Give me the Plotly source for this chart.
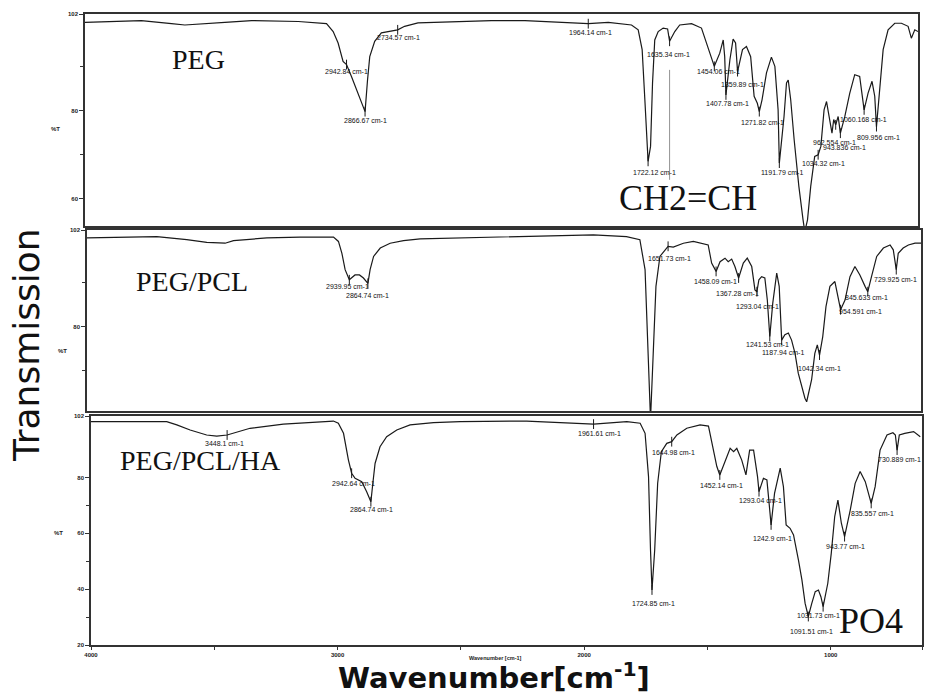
import plotly.graph_objects as go

W, H = 927, 695

# ---------------- data (wavenumber cm-1, %T) ----------------
peg = [(4000, 100.1), (3812, 100.3), (3772, 100.5), (3650, 99.8), (3596, 99.5), (3434, 100.1),
       (3326, 100.5), (3137, 100.3), (3023, 99.8), (2996, 98.0), (2976, 95.4), (2956, 91.2),
       (2942, 90.5), (2922, 87.8), (2895, 84.0), (2867, 79.8), (2857, 87.0), (2848, 92.3),
       (2828, 95.8), (2801, 97.7), (2735, 98.4), (2707, 99.2), (2653, 100.0), (2490, 100.3),
       (2355, 100.5), (2220, 100.5), (2086, 100.1), (1964, 99.8), (1883, 100.1), (1789, 99.5),
       (1762, 98.4), (1746, 93.9), (1735, 82.5), (1726, 71.1), (1722, 68.5), (1712, 71.9),
       (1704, 86.3), (1695, 96.1), (1681, 98.0), (1661, 98.8), (1643, 98.6), (1635, 95.8),
       (1614, 98.0), (1594, 99.5), (1546, 99.8), (1506, 98.8), (1486, 95.4), (1465, 91.6),
       (1454, 90.1), (1432, 93.1), (1418, 96.1), (1412, 92.3), (1407, 83.6), (1391, 91.6),
       (1378, 96.3), (1368, 95.4), (1360, 88.9), (1340, 93.9), (1324, 94.6), (1307, 92.3),
       (1293, 83.3), (1280, 81.7), (1272, 79.8), (1261, 82.5), (1243, 88.6), (1223, 92.2),
       (1209, 90.1), (1196, 80.2), (1191, 68.1), (1172, 78.7), (1162, 86.3), (1155, 87.0),
       (1145, 82.5), (1131, 73.4), (1112, 62.8), (1095, 55.2), (1088, 52.5), (1077, 55.2),
       (1064, 62.8), (1048, 69.6), (1034, 70.0), (1023, 71.9), (1010, 80.2), (1000, 82.1),
       (987, 78.0), (978, 74.9), (971, 78.0), (963, 76.8), (953, 78.7), (944, 74.9),
       (926, 78.7), (906, 84.0), (886, 88.2), (866, 87.8), (848, 80.2), (832, 84.0),
       (816, 86.7), (805, 83.3), (798, 76.4), (789, 82.5), (771, 93.9), (751, 98.4),
       (724, 99.9), (697, 99.9), (670, 99.2), (657, 96.5), (643, 98.4), (630, 98.0)]

peg_pcl = [(4000, 100.2), (3812, 100.4), (3718, 100.5), (3597, 99.8), (3516, 99.2), (3442, 99.0),
           (3408, 99.6), (3273, 100.2), (3139, 100.4), (3004, 100.4), (2984, 99.4), (2970, 96.7),
           (2957, 93.0), (2940, 90.7), (2930, 91.1), (2917, 91.8), (2899, 91.8), (2883, 91.1),
           (2865, 89.9), (2856, 93.0), (2842, 96.0), (2815, 97.9), (2775, 99.0), (2721, 99.6),
           (2654, 100.0), (2493, 100.2), (2224, 100.5), (1954, 100.9), (1820, 100.5), (1766, 99.8),
           (1745, 93.0), (1732, 74.0), (1723, 59.0), (1712, 74.0), (1701, 89.2), (1685, 96.0),
           (1665, 97.5), (1652, 98.3), (1631, 98.1), (1590, 99.0), (1550, 99.4), (1490, 98.6),
           (1476, 94.5), (1458, 92.6), (1442, 94.8), (1422, 95.6), (1409, 94.8), (1395, 95.4),
           (1382, 93.7), (1367, 91.1), (1348, 94.5), (1332, 95.6), (1314, 93.7), (1301, 88.4),
           (1293, 88.0), (1285, 90.7), (1274, 91.4), (1261, 91.1), (1251, 86.1), (1241, 77.8),
           (1229, 85.4), (1213, 92.2), (1203, 89.2), (1193, 77.0), (1180, 78.2), (1166, 78.6),
           (1153, 77.0), (1139, 74.0), (1126, 69.5), (1112, 66.4), (1099, 63.8), (1092, 63.0),
           (1072, 68.0), (1059, 74.0), (1049, 75.9), (1040, 73.6), (1027, 77.8), (1014, 84.6),
           (998, 89.2), (978, 90.3), (968, 87.7), (955, 83.9), (937, 86.1), (917, 91.4),
           (897, 93.7), (877, 91.8), (856, 89.2), (845, 88.0), (830, 91.4), (809, 96.0),
           (782, 97.9), (755, 98.6), (742, 97.5), (730, 93.0), (722, 96.7), (702, 97.9),
           (681, 98.6), (654, 99.0), (630, 99.0)]

peg_pcl_ha = [(4000, 100.0), (3828, 100.0), (3693, 100.0), (3652, 98.8), (3598, 97.0), (3531, 95.2),
              (3490, 94.8), (3448, 95.2), (3423, 95.8), (3355, 97.6), (3220, 99.1), (3085, 100.0),
              (3017, 100.2), (2997, 99.4), (2976, 95.8), (2956, 86.2), (2943, 81.5), (2929, 79.7),
              (2902, 78.5), (2882, 74.9), (2865, 71.3), (2857, 77.9), (2848, 85.0), (2828, 91.0),
              (2801, 94.6), (2760, 97.0), (2706, 98.8), (2611, 99.6), (2503, 100.0), (2233, 100.2),
              (1962, 99.1), (1827, 100.0), (1773, 99.4), (1753, 95.8), (1739, 80.3), (1731, 54.0),
              (1725, 39.7), (1714, 54.0), (1702, 77.9), (1687, 89.2), (1665, 92.2), (1645, 92.8),
              (1624, 95.2), (1584, 97.6), (1530, 98.8), (1496, 98.4), (1482, 92.2), (1462, 83.9),
              (1450, 80.9), (1428, 86.2), (1408, 90.4), (1394, 89.2), (1381, 90.4), (1361, 86.2),
              (1344, 80.9), (1329, 89.8), (1313, 89.8), (1297, 80.3), (1291, 74.9), (1273, 79.7),
              (1259, 79.1), (1250, 70.7), (1242, 63.0), (1228, 74.3), (1205, 83.3), (1192, 76.7),
              (1181, 63.0), (1165, 61.8), (1151, 59.4), (1131, 50.4), (1117, 43.3), (1104, 34.9),
              (1091, 30.2), (1077, 34.9), (1063, 39.1), (1050, 39.7), (1040, 37.3), (1031, 33.7),
              (1012, 42.1), (998, 52.8), (984, 66.0), (971, 71.9), (957, 63.6), (944, 58.8),
              (921, 68.3), (901, 77.9), (881, 82.1), (860, 78.5), (836, 70.7), (820, 76.7),
              (800, 89.8), (772, 95.2), (748, 96.0), (738, 95.2), (731, 89.8), (722, 95.2),
              (700, 95.8), (664, 96.4), (637, 94.6)]

# small peak-pick tick marks (wavenumber, %T) per panel
peg_marks = [(2942, 90.5), (2867, 79.8), (2735, 98.4), (1964, 99.8), (1722, 68.5), (1635, 95.8),
             (1454, 90.1), (1407, 83.6), (1360, 88.9), (1272, 79.8), (1191, 68.1), (1034, 70.0),
             (963, 76.8), (944, 74.9), (848, 80.2), (798, 76.4)]
peg_pcl_marks = [(2940, 90.7), (2865, 89.9), (1652, 98.3), (1458, 92.6), (1367, 91.1), (1293, 88.0),
                 (1241, 77.8), (1193, 77.0), (1040, 73.6), (955, 83.9), (845, 88.0), (730, 93.0)]
peg_pcl_ha_marks = [(3448, 95.2), (2943, 81.5), (2865, 71.3), (1962, 99.1), (1725, 39.7),
                    (1645, 92.8), (1450, 80.9), (1291, 74.9), (1242, 63.0), (1091, 30.2),
                    (1031, 33.7), (944, 58.8), (836, 70.7), (731, 89.8)]

x_ticks = [4000, 3000, 2000, 1000, 630]
x_minor = [3500, 2500, 1500]
x_range = [4000, 630]

# ---------------- helpers ----------------
def px(x, y):
    return x / W, 1 - y / H

def dom_x(a, b):
    return [a / W, b / W]

def dom_y(top, bottom):
    return [1 - bottom / H, 1 - top / H]

INK = "#1a1a1a"
fig = go.Figure()
for i, (spec, marks) in enumerate([(peg, peg_marks), (peg_pcl, peg_pcl_marks),
                                   (peg_pcl_ha, peg_pcl_ha_marks)]):
    wn, t = zip(*spec)
    sfx = "" if i == 0 else str(i + 1)
    fig.add_trace(go.Scatter(x=list(wn), y=list(t), mode="lines",
                             line=dict(color=INK, width=1.2),
                             xaxis="x" + sfx, yaxis="y" + sfx, showlegend=False,
                             cliponaxis=True, hoverinfo="skip"))
    mw, mt = zip(*marks)
    fig.add_trace(go.Scatter(x=list(mw), y=list(mt), mode="markers",
                             marker=dict(symbol="line-ns-open", size=7, color=INK,
                                         line=dict(color=INK, width=1)),
                             xaxis="x" + sfx, yaxis="y" + sfx, showlegend=False,
                             hoverinfo="skip"))

tickfont = dict(family="Liberation Sans", size=6, color="#222", weight="bold")
frame = dict(showline=True, linecolor="#333", linewidth=1.6, mirror=True,
             showgrid=False, zeroline=False, automargin=False)

panels = [
    # x-domain px, y-domain px (top,bottom), y range, y ticks, minor
    ((85, 918), (14, 226), [53.8, 102], [60, 80, 102], [70, 90]),
    ((87, 921), (230, 411), [60.9, 102], [80, 102], [70, 90]),
    ((91, 922), (416, 645), [20, 102], [20, 40, 60, 80, 102], [30, 50, 70]),
]
layout = dict(width=W, height=H, margin=dict(l=0, r=0, t=0, b=0, pad=0),
              paper_bgcolor="white", plot_bgcolor="white")
for i, (dx, dy, yr, yt, ym) in enumerate(panels):
    sfx = "" if i == 0 else str(i + 1)
    last = (i == 2)
    layout["xaxis" + sfx] = dict(domain=dom_x(*dx), range=x_range, anchor="y" + sfx,
                                 tickvals=x_ticks if last else [],
                                 ticktext=[str(v) for v in x_ticks] if last else [],
                                 ticks="outside" if last else "", ticklen=3, tickcolor="#333",
                                 minor=dict(tickvals=x_minor if last else [],
                                            ticks="outside" if last else "", ticklen=3),
                                 tickfont=tickfont, showticklabels=last, **frame)
    layout["yaxis" + sfx] = dict(domain=dom_y(*dy), range=yr, anchor="x" + sfx,
                                 tickvals=yt, ticktext=[str(v) for v in yt],
                                 ticks="outside", ticklen=4, tickcolor="#333",
                                 minor=dict(tickvals=ym, ticks="outside", ticklen=3),
                                 tickfont=tickfont, **frame)
fig.update_layout(**layout)

# vertical guide line for CH2=CH
guide = dict(wn=1635, t0=89.3, t1=64.3)
fig.add_shape(type="line", xref="x", yref="y", x0=guide["wn"], x1=guide["wn"],
              y0=guide["t0"], y1=guide["t1"], line=dict(color="#777", width=0.8))

# ---------------- text ----------------
peak_labels = [
    ("2942.84 cm-1", 346, 72), ("2866.67 cm-1", 365, 120), ("2734.57 cm-1", 398, 38),
    ("1964.14 cm-1", 590, 33), ("1635.34 cm-1", 668, 55), ("1722.12 cm-1", 654, 173),
    ("1454.06 cm-1", 718, 72), ("1359.89 cm-1", 742, 84), ("1407.78 cm-1", 727, 103),
    ("1271.82 cm-1", 762, 122), ("1191.79 cm-1", 782, 172), ("1034.32 cm-1", 823, 164),
    ("962.554 cm-1", 834, 142), ("943.836 cm-1", 844, 147), ("1060.168 cm-1", 863, 119),
    ("809.956 cm-1", 878, 137),
    ("2939.95 cm-1", 347, 286), ("2864.74 cm-1", 367, 295), ("1651.73 cm-1", 669, 258),
    ("1458.09 cm-1", 715, 281), ("1367.28 cm-1", 737, 293), ("1293.04 cm-1", 757, 306),
    ("1241.53 cm-1", 767, 344), ("1187.94 cm-1", 783, 352), ("1042.34 cm-1", 819, 368),
    ("954.591 cm-1", 860, 312), ("845.633 cm-1", 866, 297), ("729.925 cm-1", 895, 280),
    ("3448.1 cm-1", 224, 443), ("2942.64 cm-1", 353, 483), ("2864.74 cm-1", 371, 509),
    ("1961.61 cm-1", 599, 433), ("1644.98 cm-1", 673, 452), ("1724.85 cm-1", 653, 603),
    ("1452.14 cm-1", 721, 485), ("1293.04 cm-1", 760, 500), ("1242.9 cm-1", 772, 538),
    ("943.77 cm-1", 845, 546), ("835.557 cm-1", 872, 513), ("730.889 cm-1", 899, 459),
    ("1031.73 cm-1", 818, 615), ("1091.51 cm-1", 811, 631),
]
annotations = []
def note(txt, x, y, font, **kw):
    ax, ay = px(x, y)
    d = dict(text=txt, x=ax, y=ay, xref="paper", yref="paper", showarrow=False,
             font=font, xanchor="center", yanchor="middle")
    d.update(kw)
    annotations.append(d)

for txt, x, y in peak_labels:
    note(txt, x, y, dict(family="Liberation Sans", size=7, color="#111"))

big_labels = [
    ("PEG", 198, 59, 28), ("PEG/PCL", 192, 281, 28), ("PEG/PCL/HA", 200, 460, 28),
    ("CH2=CH", 688, 198, 36), ("PO4", 871, 621, 36),
]
for txt, x, y, s in big_labels:
    note(txt, x, y, dict(family="Liberation Serif", size=s, color="#111"))

for x, y in [(55, 129), (62, 351), (58, 533)]:
    note("%T", x, y, dict(family="Liberation Sans", size=6, color="#222", weight="bold"))

note("Wavenumber [cm-1]", 495, 658,
     dict(family="Liberation Sans", size=5.5, color="#222", weight="bold"))
note("Wavenumber[cm<sup>-1</sup>]", 494, 697,
     dict(family="DejaVu Sans", size=29, color="#111", weight="bold"), yanchor="bottom")
note("Transmission", 26, 345, dict(family="DejaVu Sans", size=36, color="#111"),
     textangle=-90)

fig.update_layout(annotations=annotations)
fig.write_html("out.html", config={"displayModeBar": False},
               post_script="document.body.style.margin='0';")
